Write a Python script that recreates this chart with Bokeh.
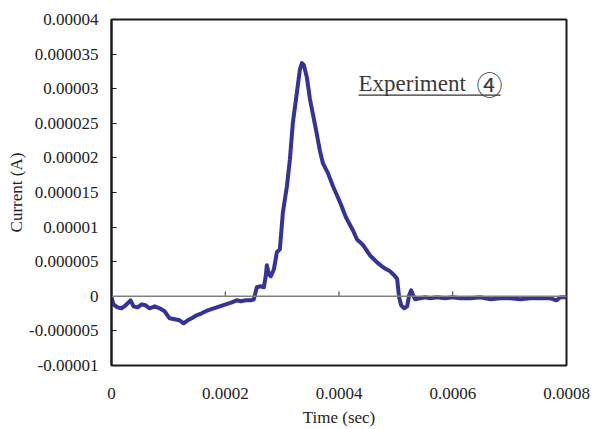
from bokeh.plotting import figure
from bokeh.models import Span, FixedTicker, Label, Range1d
from bokeh.embed import file_html
from bokeh.resources import INLINE

# Data (time in microseconds, current in microamps)
time_us = [0, 3.5, 10.6, 17.6, 24.7, 30.0, 33.5, 38.8, 45.8, 52.9, 59.9, 67.0, 75.8,
           84.6, 93.4, 102.2, 111.0, 119.8, 126.9, 133.9, 141.0, 149.8, 158.6, 169.2,
           179.7, 190.3, 200.9, 211.5, 220.3, 227.3, 236.1, 244.9, 250.2, 255.5, 262.6,
           267.8, 271.4, 273.1, 276.7, 280.2, 285.5, 290.7, 296.0, 301.3, 308.4, 313.7,
           318.9, 326.0, 331.3, 334.8, 338.3, 343.6, 348.9, 354.2, 359.5, 366.5, 371.8,
           380.6, 389.4, 401.8, 412.3, 419.4, 424.7, 431.7, 442.3, 454.6, 467.0, 477.5,
           489.9, 498.7, 502.2, 505.7, 509.3, 514.5, 519.8, 523.3, 526.9, 530.4, 533.9,
           542.7, 551.5, 560.4, 572.7, 586.8, 599.1, 613.2, 630.8, 648.5, 666.1, 683.7,
           701.3, 718.9, 736.6, 754.2, 771.8, 782.4, 789.4, 800.0]
current_ua = [-0.14, -1.16, -1.6, -1.73, -1.3, -0.87, -0.58, -1.45, -1.6, -1.16, -1.3,
              -1.73, -1.45, -1.73, -2.17, -3.18, -3.32, -3.47, -3.9, -3.47, -3.18, -2.75,
              -2.46, -2.02, -1.73, -1.45, -1.16, -0.87, -0.58, -0.72, -0.58, -0.58, -0.43,
              1.3, 1.45, 1.3, 3.03, 4.48, 3.18, 2.89, 3.9, 6.36, 6.79, 12.1, 15.9, 19.8,
              25.1, 29.5, 32.8, 33.7, 33.4, 31.6, 28.5, 26.3, 24.1, 21.0, 19.2, 17.8,
              15.9, 13.6, 11.4, 10.3, 9.5, 8.2, 7.4, 5.9, 4.9, 4.2, 3.6, 2.9, 2.5, -0.14,
              -1.3, -1.73, -1.45, 0.14, 0.87, 0.14, -0.43, -0.29, -0.14, -0.29, -0.14,
              -0.29, -0.14, -0.29, -0.29, -0.14, -0.43, -0.29, -0.29, -0.43, -0.29, -0.29,
              -0.29, -0.58, -0.14, -0.14]

x_ticks = [0, 0.0002, 0.0004, 0.0006, 0.0008]
x_tick_labels = ["0", "0.0002", "0.0004", "0.0006", "0.0008"]
y_ticks = [-0.00001, -0.000005, 0, 0.000005, 0.00001, 0.000015, 0.00002,
           0.000025, 0.00003, 0.000035, 0.00004]
y_tick_labels = ["-0.00001", "-0.000005", "0", "0.000005", "0.00001", "0.000015",
                 "0.00002", "0.000025", "0.00003", "0.000035", "0.00004"]

t = [v * 1e-6 for v in time_us]
cur = [v * 1e-6 for v in current_ua]

FONT = "Liberation Serif"
FS = "17px"

p = figure(width=592, height=429, output_backend="svg", toolbar_location=None,
           x_range=Range1d(0, 0.0008), y_range=Range1d(-0.00001, 0.00004),
           min_border_left=111, min_border_right=26, min_border_top=19,
           min_border_bottom=62)
p.background_fill_color = "white"
p.border_fill_color = "white"
p.outline_line_color = "#1a1a1a"
p.outline_line_width = 2
p.grid.visible = False

# y axis
ya = p.yaxis[0]
ya.ticker = FixedTicker(ticks=y_ticks)
ya.major_label_overrides = {v: s for v, s in zip(y_ticks, y_tick_labels)}
ya.major_tick_in = 5
ya.major_tick_out = 0
ya.minor_tick_in = 0
ya.minor_tick_out = 0
ya.axis_line_width = 2
ya.axis_line_color = "#1a1a1a"
ya.major_tick_line_color = "#1a1a1a"
ya.major_label_standoff = 13
ya.major_label_text_font = FONT
ya.major_label_text_font_size = FS
ya.major_label_text_color = "#222222"
ya.axis_label = "Current (A)"
ya.axis_label_text_font = FONT
ya.axis_label_text_font_size = FS
ya.axis_label_text_font_style = "normal"
ya.axis_label_text_color = "#222222"
ya.axis_label_standoff = 0

# x axis (labels below the frame)
xa = p.xaxis[0]
xa.ticker = FixedTicker(ticks=x_ticks)
xa.major_label_overrides = {v: s for v, s in zip(x_ticks, x_tick_labels)}
xa.axis_line_color = None
xa.major_tick_line_color = None
xa.minor_tick_line_color = None
xa.major_tick_in = 0
xa.major_tick_out = 0
xa.minor_tick_in = 0
xa.minor_tick_out = 0
xa.major_label_standoff = 22
xa.major_label_text_font = FONT
xa.major_label_text_font_size = FS
xa.major_label_text_color = "#222222"
xa.axis_label = "Time (sec)"
xa.axis_label_text_font = FONT
xa.axis_label_text_font_size = FS
xa.axis_label_text_font_style = "normal"
xa.axis_label_text_color = "#222222"
xa.axis_label_standoff = 6

# zero line with crossing ticks
p.add_layout(Span(location=0, dimension="width", line_color="#808080", line_width=1.5))
yspan = 0.00005
tick_len = yspan * 5 / 348
inner = x_ticks[1:-1]
p.segment(x0=inner, y0=[0] * len(inner), x1=inner, y1=[tick_len] * len(inner),
          line_color="#333333", line_width=1)

# data
p.line(t, cur, line_color="#333399", line_width=4, line_join="round", line_cap="round")

# annotation
lab_x = 0.0004343
p.add_layout(Label(x=lab_x, y=0.00003073, text="Experiment", text_font=FONT,
                   text_font_size="23px", text_color="#3a3a3a", text_baseline="middle"))
p.add_layout(Label(x=0.0006646, y=0.00003073, text="\u2463", text_font="Noto Sans CJK JP",
                   text_font_size="26px", text_color="#3a3a3a", text_align="center",
                   text_baseline="middle"))
p.segment(x0=[lab_x], y0=[0.00002908], x1=[0.000684], y1=[0.00002908],
          line_color="#333333", line_width=1.2)

open("out.html", "w").write(file_html(p, INLINE))
